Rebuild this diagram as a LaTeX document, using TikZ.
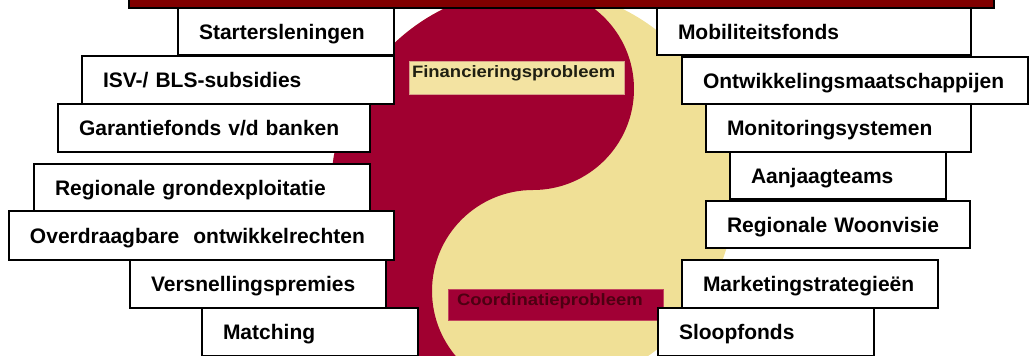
\documentclass[tikz,border=0pt]{standalone}
\usepackage{fontspec}
\usepackage{graphicx}
\setmainfont{Liberation Sans}
\definecolor{yyred}{HTML}{A00030}
\definecolor{yycream}{HTML}{F0E096}
\definecolor{barred}{HTML}{800000}
\definecolor{finfill}{HTML}{F3E3A2}
\definecolor{finedge}{HTML}{D9A08A}
\definecolor{fintext}{HTML}{1F1F12}
\definecolor{coofill}{HTML}{A10035}
\definecolor{cooedge}{HTML}{C2445E}
\definecolor{cootext}{HTML}{4D0012}

% one white instrument box: name, left, top, width, height, text
\newcommand\instrbox[6]{%
  \node[instr, text width=#4pt, minimum height=#5pt] (#1) at (#2,#3) {\hspace*{21pt}#6};}

\begin{document}
\begin{tikzpicture}[x=1pt,y=-1pt,
  instr/.style={draw=black, line width=1.8pt, fill=white, anchor=north west,
    outer sep=0pt, inner xsep=0pt, inner ysep=0pt, align=left,
    font=\fontsize{21}{25}\selectfont\bfseries, text height=15pt, text depth=0pt},
  problabel/.style={anchor=north west, outer sep=0pt, inner sep=0pt,
    minimum width=215pt, text width=215pt, align=left, line width=0.9pt,
    font=\fontsize{16.5}{18}\selectfont\bfseries, text height=16pt},
]
\useasboundingbox (0,0) rectangle (1029,356);
\begin{scope}
\clip (0,0) rectangle (1029,356);

% yin-yang disc
\fill[yycream] (533,190) circle[radius=202];
\fill[yyred] (533,-12) arc[start angle=270,end angle=90,radius=202]
  arc[start angle=90,end angle=270,radius=101]
  arc[start angle=90,end angle=-90,radius=101] -- cycle;

% the two problem labels
\node[problabel, fill=finfill, draw=finedge, text=fintext, text depth=17pt]
  (finprob) at (409,61) {\hspace*{3pt}\scalebox{1.12}[1]{Financieringsprobleem}};
\node[problabel, fill=coofill, draw=cooedge, text=cootext, text depth=15pt]
  (cooprob) at (448,289) {\hspace*{9pt}\scalebox{1.12}[1]{Coordinatieprobleem}};

% bar along the top
\node[draw=black, line width=1.8pt, fill=barred, anchor=south west, outer sep=0pt,
  minimum width=865pt, minimum height=20pt] (topbar) at (129,8) {};

% financial instruments, left column
\instrbox{starters}{178}{8}{216}{47}{Startersleningen}
\instrbox{isv}{82}{56}{312}{48}{ISV-/ BLS-subsidies}
\instrbox{garantie}{58}{104}{312}{48}{Garantiefonds v/d banken}
\instrbox{grondexpl}{34}{164}{336}{47}{Regionale grondexploitatie}
\instrbox{overdraag}{9}{211}{385}{49}{Overdraagbare\ \ ontwikkelrechten}
\instrbox{versnel}{130}{260}{256}{48}{Versnellingspremies}
\instrbox{matching}{202}{308}{216}{48}{Matching}

% coordination instruments, right column
\instrbox{mobiliteit}{657}{8}{314}{47}{Mobiliteitsfonds}
\instrbox{ontwmij}{682}{57}{346}{47}{Ontwikkelingsmaatschappijen}
\instrbox{monitor}{706}{104}{265}{48}{Monitoringsystemen}
\instrbox{aanjaag}{730}{152}{216}{47}{Aanjaagteams}
\instrbox{woonvisie}{706}{201}{264}{47}{Regionale Woonvisie}
\instrbox{marketing}{682}{260}{256}{48}{Marketingstrategieën}
\instrbox{sloop}{658}{308}{216}{48}{Sloopfonds}
\end{scope}
\end{tikzpicture}
\end{document}
